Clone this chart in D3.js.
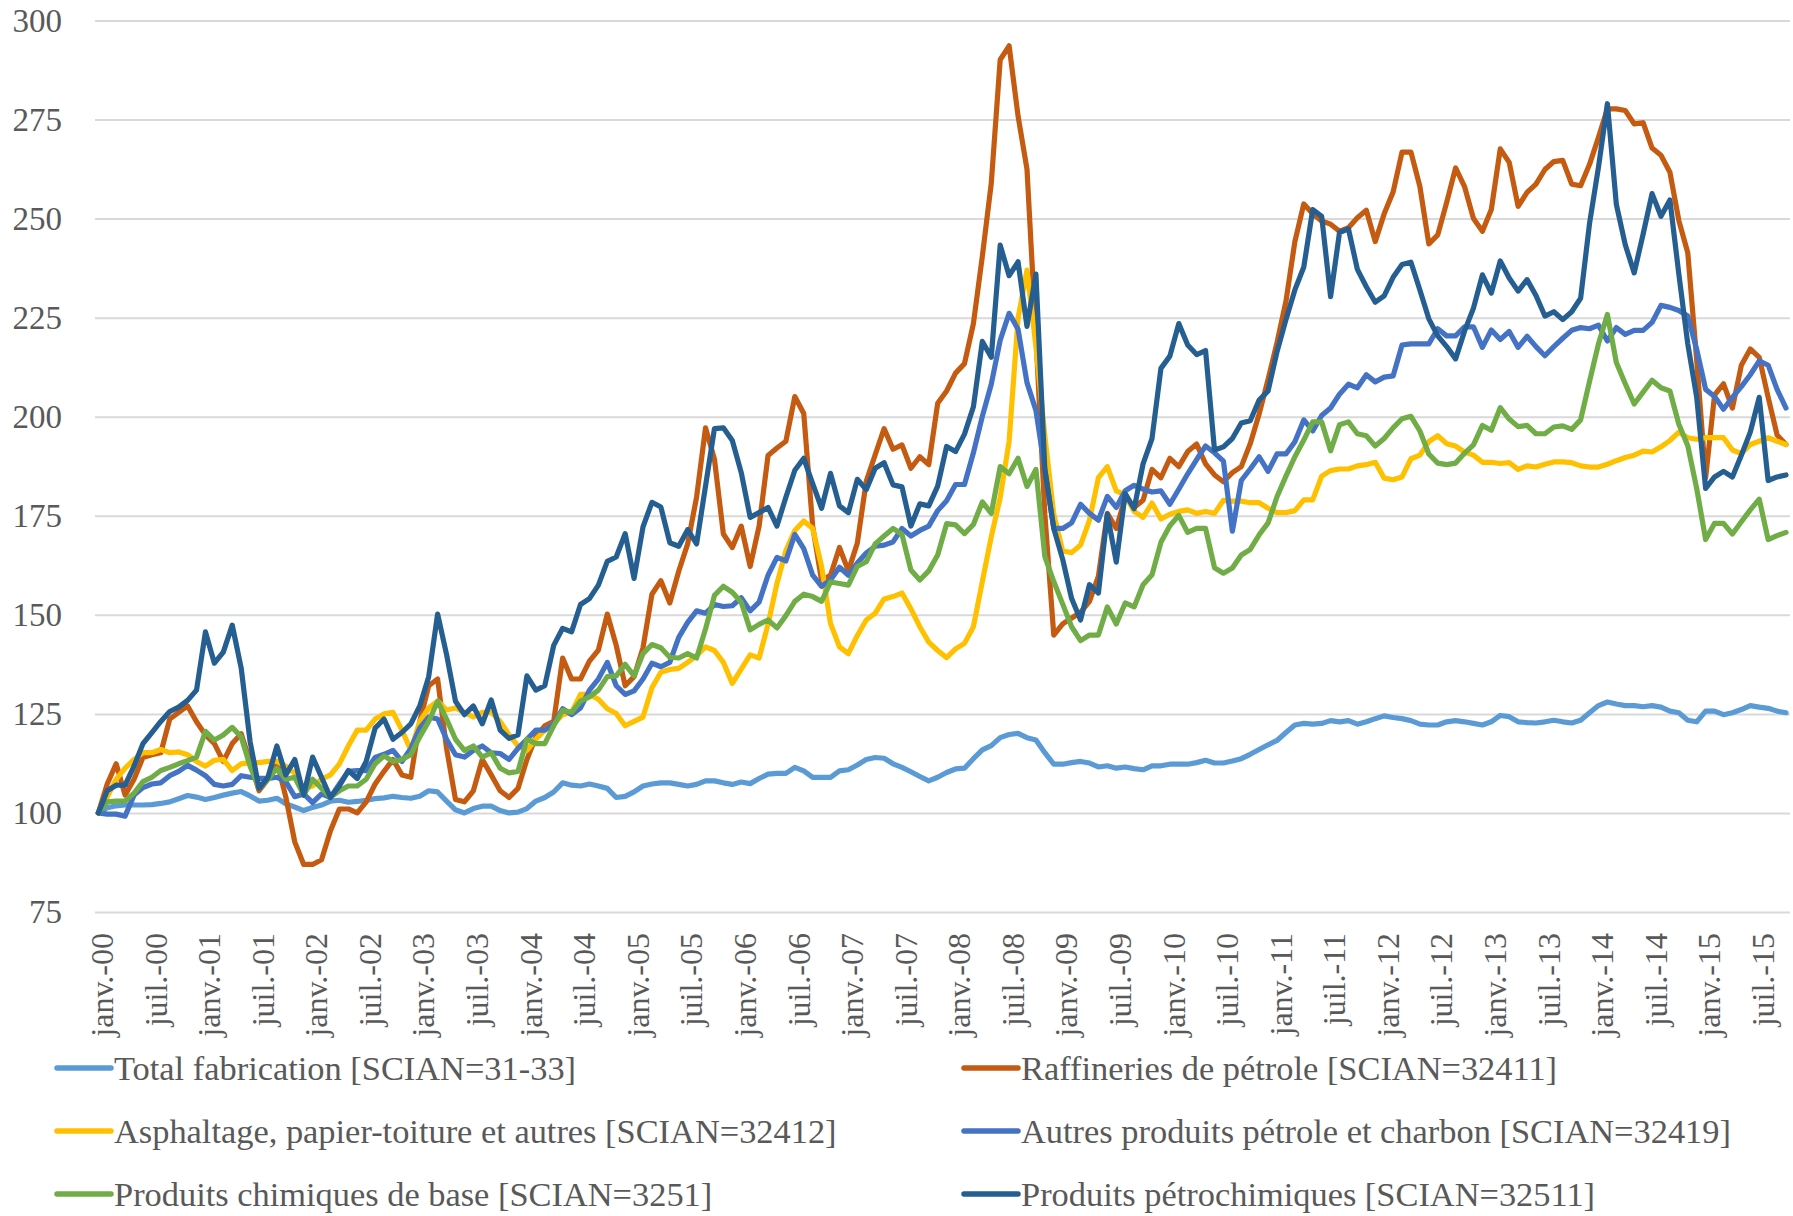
<!DOCTYPE html>
<html>
<head>
<meta charset="utf-8">
<script src="https://cdn.jsdelivr.net/npm/d3@7"></script>
<style>
  body { margin: 0; background: #fff; }
  svg text { font-family: "Palatino Linotype", "Book Antiqua", Palatino, "Liberation Serif", serif; fill: #595959; }
</style>
</head>
<body>
<svg id="chart" width="1793" height="1216"></svg>
<script>
// ------------------------------------------
//  Data (indices, janv. 2000 = 100)
// ------------------------------------------
const moisNoms = ['janv.', 'févr.', 'mars', 'avr.', 'mai', 'juin', 'juil.', 'août', 'sept.', 'oct.', 'nov.', 'déc.']
const annees = ['00', '01', '02', '03', '04', '05', '06', '07', '08', '09', '10', '11', '12', '13', '14', '15']
const yTicks = [75, 100, 125, 150, 175, 200, 225, 250, 275, 300]

const totalFab = [
  100, 101.3, 101.8, 102, 102, 102, 102.1, 102.4, 102.8, 103.6, 104.4, 104,
  103.4, 103.9, 104.5, 105, 105.4, 104.3, 103, 103.2, 103.7, 102.3, 101.5, 100.6,
  101.4, 102, 103, 103.2, 102.7, 102.9, 103.2, 103.6, 103.8, 104.2, 103.9, 103.7,
  104.2, 105.6, 105.3, 103, 100.8, 100, 101.1, 101.7, 101.7, 100.6, 100, 100.2,
  101.1, 103, 103.9, 105.3, 107.6, 107, 106.8, 107.3, 106.8, 106.2, 103.9, 104.2,
  105.3, 106.8, 107.3, 107.6, 107.6, 107.2, 106.8, 107.2, 108.1, 108.1, 107.6, 107.2,
  107.8, 107.4, 108.7, 109.8, 110, 110, 111.5, 110.6, 109, 109, 109, 110.6,
  110.9, 112.1, 113.5, 114, 113.8, 112.4, 111.5, 110.4, 109.2, 108.1, 109, 110.2,
  111.1, 111.3, 113.7, 115.9, 117, 119, 119.8, 120.1, 119, 118.4, 115.2, 112.3,
  112.3, 112.7, 113, 112.6, 111.6, 111.9, 111.3, 111.6, 111.2, 110.9, 111.9, 111.9,
  112.3, 112.3, 112.3, 112.7, 113.3, 112.6, 112.6, 113.1, 113.7, 114.8, 116, 117.2,
  118.3, 120.3, 122.2, 122.6, 122.4, 122.6, 123.3, 123, 123.3, 122.4, 123, 123.8,
  124.5, 124.1, 123.8, 123.3, 122.4, 122.2, 122.2, 123, 123.3, 123, 122.6, 122.2,
  123, 124.6, 124.3, 123, 122.8, 122.7, 123, 123.4, 123, 122.7, 123.4, 125.3,
  127.1, 128, 127.5, 127.1, 127.1, 126.8, 127.1, 126.7, 125.7, 125.3, 123.4, 123,
  125.7, 125.7, 124.8, 125.3, 126.1, 127.1, 126.7, 126.4, 125.7, 125.3
]

const raffineries = [
  100, 107.3, 112.4, 104.5, 108.5, 114, 114.7, 115.2, 123.7, 125.4, 127, 123,
  119.7, 117.5, 113, 117.5, 120, 113, 105.6, 108.5, 113, 104, 92.7, 87,
  87, 88.2, 95.5, 101, 101, 100, 102.8, 107.3, 110.5, 113.5, 109.6, 109,
  123.1, 132.1, 133.8, 116.3, 103.4, 102.8, 105.6, 113.5, 109.6, 105.6, 103.9, 106.2,
  113.5, 119.2, 122, 123.1, 139.1, 133.8, 133.8, 138.3, 141.1, 150.2, 142.3, 132.1,
  134.4, 141.7, 155.2, 158.6, 153, 161, 167.9, 179.7, 197.2, 189.3, 170.4, 167,
  172.4, 162.2, 172.4, 190.2, 192.1, 193.8, 205.1, 200.8, 172.4, 158.6, 160, 167,
  161.1, 168.1, 183.7, 190.4, 197, 191.8, 192.9, 187, 189.9, 187.9, 203.4, 206.5,
  211, 213.4, 223.5, 240.5, 258.9, 290.1, 293.6, 275.9, 262.5, 220.7, 175.4, 144.9,
  147.7, 149.2, 150.6, 153.4, 159.8, 175.6, 171.8, 179.6, 177.1, 178.9, 186.7, 184.6,
  189.5, 187.4, 191.2, 193.1, 188.1, 185.3, 183.6, 185.9, 187.4, 193.2, 200.7, 209.4,
  218.7, 229.1, 244.2, 253.7, 251.2, 249.4, 248.6, 246.8, 247.7, 250.2, 252.1, 244.2,
  251.2, 256.7, 266.8, 266.8, 258.1, 243.6, 245.9, 254.1, 262.8, 258.1, 250, 246.8,
  252.3, 267.6, 264.2, 253.1, 256.6, 258.7, 262.4, 264.4, 264.7, 258.7, 258.3, 263.7,
  270.5, 277.7, 277.7, 277.3, 273.9, 274.2, 267.8, 266, 261.7, 249.5, 241.4, 214.3,
  184.6, 205.5, 208.3, 202.2, 213, 217.1, 215, 204.9, 195.4, 193
]

const asphaltage = [
  100, 104, 108.5, 111.3, 113.5, 115.2, 115.2, 116, 115.2, 115.4, 114.7, 113,
  111.8, 113.3, 113.5, 110.7, 112.4, 112.7, 112.7, 113, 113, 111.8, 110, 106.2,
  106.8, 108.5, 109.6, 112.4, 116.9, 120.9, 120.9, 123.7, 125, 125.4, 120.9, 115.8,
  123.1, 126.5, 128.2, 126, 126.5, 125.4, 124.2, 125.4, 125.4, 123.1, 119.7, 116.9,
  115.8, 118.6, 120.9, 122.5, 124.8, 125.4, 129.9, 129.9, 128.7, 126.3, 125.1, 122,
  123.1, 124.2, 131.6, 135.5, 136.2, 136.5, 138, 139.7, 141.9, 141, 138, 132.7,
  136.3, 139.9, 139.1, 147.6, 157.9, 166.2, 171.3, 173.7, 171.8, 162.2, 147.8, 141.9,
  140.2, 144.8, 148.7, 150.4, 154, 154.6, 155.5, 151.5, 147, 143.1, 141, 139.2,
  141.4, 142.8, 147, 158.4, 169.7, 179.6, 193.8, 224.9, 237, 217.8, 195.2, 175.4,
  166.1, 165.7, 167.6, 173.9, 184.6, 187.4, 181.3, 180.3, 176.1, 174.6, 178.2, 174.2,
  175.4, 176.1, 176.5, 175.6, 176.1, 175.6, 178.9, 178.7, 178.7, 178.3, 178.3, 176.9,
  175.8, 175.8, 176.3, 179, 179, 185, 186.4, 186.8, 186.8, 187.6, 187.9, 188.5,
  184.5, 184.1, 184.8, 189.4, 190.3, 193.7, 195.2, 193.2, 192.6, 191.1, 190.3, 188.5,
  188.5, 188.2, 188.4, 186.7, 187.6, 187.3, 188, 188.6, 188.6, 188.4, 187.6, 187.3,
  187.3, 188, 188.9, 189.7, 190.3, 191.3, 191.1, 192.4, 194, 196.1, 194.7, 194.3,
  194.7, 194.7, 194.7, 191.6, 190.7, 193, 193.8, 194.7, 193.8, 193
]

const autresProduits = [
  100, 99.7, 99.7, 99.2, 104.5, 106.4, 107.3, 107.6, 109.4, 110.5, 112, 110.8,
  109.4, 107.2, 106.8, 107.2, 109.4, 109, 108.7, 108.7, 109, 107.9, 104.1, 104.8,
  102.6, 104.8, 103.9, 107.3, 110.5, 110.7, 110.7, 114, 114.8, 115.8, 113, 116.3,
  121.4, 124.2, 123.7, 118.6, 114.7, 114.1, 115.8, 116.9, 115.2, 115, 113.5, 116.3,
  118.6, 120.9, 120.9, 122.5, 126.3, 124.8, 126.5, 131, 133.8, 138, 132.1, 129.9,
  130.8, 133.8, 137.8, 136.9, 138, 144.3, 148.1, 151, 150.4, 152.6, 152.1, 152.3,
  154.3, 151, 153.2, 160, 164.5, 163.6, 170.3, 166.7, 160, 157.2, 158.8, 162,
  160, 163.1, 165.6, 167.3, 167.6, 168.4, 171.8, 169.9, 171.3, 172.4, 176.3, 178.8,
  182.9, 182.9, 190.9, 200.1, 208.2, 219.3, 226.1, 222.1, 208.6, 201.6, 186.7, 171.8,
  171.8, 173.2, 177.9, 175.6, 173.9, 179.9, 177.1, 181.3, 182.7, 181.7, 181, 181.3,
  177.9, 181.7, 185.6, 189.2, 192.6, 190.9, 188.8, 171.1, 183.9, 186.8, 189.9, 186.2,
  190.6, 190.6, 193.7, 199.2, 196.4, 200.3, 202.2, 205.7, 208.2, 207.3, 210.6, 208.8,
  210, 210.3, 218.1, 218.4, 218.4, 218.4, 222.2, 220.4, 220.4, 222.7, 222.7, 217.5,
  221.9, 219.5, 221.5, 217.5, 220.3, 217.7, 215.4, 217.7, 219.8, 221.8, 222.5, 222.2,
  223.1, 219.1, 222.5, 220.8, 221.8, 221.8, 223.8, 228.1, 227.6, 226.8, 225.4, 217,
  206.9, 205.1, 201.9, 204.9, 207.6, 210.6, 214.1, 213, 206.9, 202.2
]

const chimiquesBase = [
  100, 102.8, 103, 103, 105, 107.9, 109, 110.7, 111.5, 112.4, 113.2, 114.1,
  120.6, 118.4, 119.7, 121.6, 119.2, 111.8, 106.2, 108.5, 111.3, 108.5, 109, 104.5,
  108.5, 106.2, 104, 105.6, 106.8, 106.8, 108.5, 112.4, 114.4, 113, 113.5, 114.7,
  119.2, 123.1, 128.2, 123.7, 118.6, 115.8, 116.9, 114.1, 115.2, 111.3, 110.1, 110.5,
  118.6, 117.5, 117.5, 122, 125.9, 125.4, 128.2, 129.3, 131, 134.4, 134.6, 137.5,
  134.6, 140.2, 142.5, 141.7, 139.3, 139.1, 140.2, 139.1, 146.4, 154.9, 157.2, 155.7,
  153.2, 146.2, 147.6, 148.7, 146.7, 149.8, 153.4, 155.2, 154.6, 153.4, 158.3, 157.9,
  157.5, 162.2, 163.4, 167.9, 169.9, 171.8, 170.3, 161.3, 158.8, 161.1, 165.1, 173,
  172.7, 170.5, 172.8, 178.5, 175.6, 187.4, 185.6, 189.5, 182.4, 186.7, 164.7, 158.4,
  152.7, 147, 143.5, 144.9, 144.9, 152, 147.7, 153, 152, 157.6, 160.1, 168.3,
  172.5, 175.1, 170.8, 171.8, 171.8, 161.9, 160.5, 161.8, 165.1, 166.5, 170.2, 173.2,
  179.8, 185, 189.9, 194.1, 198.7, 198.7, 191.4, 198, 198.7, 195.7, 195.2, 192.6,
  194.5, 197.2, 199.5, 200.1, 196.4, 190.6, 188.3, 187.9, 188.3, 190.8, 192.9, 197.8,
  196.6, 202.3, 199.4, 197.5, 197.8, 195.7, 195.7, 197.4, 197.7, 196.8, 199.2, 208.9,
  218.4, 225.8, 213.7, 208.3, 203.2, 206.2, 209.2, 207.3, 206.5, 198.1, 192.7, 181.9,
  169, 173.1, 173.1, 170.4, 173.5, 176.5, 179.2, 169, 170, 170.8
]

const petrochimiques = [
  100, 105.6, 107, 107, 111.8, 117.5, 120.3, 123.1, 125.6, 126.7, 128.4, 131,
  145.7, 137.8, 140.6, 147.4, 136.6, 118, 106.2, 109, 116.9, 109.6, 113.5, 104.5,
  114.1, 109, 103.9, 106.8, 110.7, 108.7, 113, 121.4, 123.7, 118.6, 120.3, 122.5,
  127, 134.4, 150.2, 140, 128.2, 124.8, 127, 122.5, 128.5, 120.9, 118.8, 119.7,
  134.6, 131, 132.1, 142.3, 146.6, 145.7, 152.6, 154.1, 157.5, 163.5, 164.6, 170.5,
  159.2, 172.2, 178.4, 177.2, 168.2, 167.3, 171.5, 167.9, 182.5, 197, 197.2, 194,
  185.9, 174.6, 175.8, 177.1, 172.4, 179.7, 186.5, 189.5, 183.1, 176.9, 185.7, 177.5,
  175.8, 184.2, 181.6, 187, 188.4, 182.8, 182.3, 172.4, 178, 177.5, 182.5, 192.5,
  191.2, 195.6, 202.5, 219, 215, 243.3, 235.6, 239.1, 222.8, 236, 186.7, 171.8,
  164, 154.1, 148.7, 157.6, 155.5, 175.4, 163.3, 180.6, 176.8, 188.1, 194.5, 212.2,
  215.3, 223.5, 218.1, 215.7, 216.7, 191.6, 192.4, 194.5, 198.4, 199, 204.2, 206.5,
  216.4, 224.5, 232, 237.8, 252.3, 250.6, 230.3, 246.5, 247.4, 237.2, 232.8, 228.9,
  230.5, 235.2, 238.4, 239, 232, 224.7, 220.4, 217.7, 214.6, 221.6, 227.4, 235.8,
  231.2, 239.3, 235, 231.7, 234.6, 230.6, 225.4, 226.5, 224.5, 226.5, 229.9, 248.8,
  263, 279, 253.6, 243.4, 236.3, 246.1, 256.3, 250.6, 254.7, 236, 218.4, 204.9,
  181.9, 184.8, 186.2, 184.8, 190.3, 196.1, 204.9, 183.9, 184.8, 185.3
]

const seriesNames = [
  'Total fabrication [SCIAN=31-33]',
  'Raffineries de pétrole [SCIAN=32411]',
  'Asphaltage, papier-toiture et autres [SCIAN=32412]',
  'Autres produits pétrole et charbon [SCIAN=32419]',
  'Produits chimiques de base [SCIAN=3251]',
  'Produits pétrochimiques [SCIAN=32511]'
]
const seriesValues = [totalFab, raffineries, asphaltage, autresProduits, chimiquesBase, petrochimiques]
const seriesColors = ['#5B9BD5', '#C55A11', '#FFC000', '#4472C4', '#70AD47', '#255E91']

// categories: one per month
const categories = annees.flatMap(a => moisNoms.map(m => `${m}-${a}`)).slice(0, totalFab.length)

// ------------------------------------------
//  Chart
// ------------------------------------------
const svg = d3.select('#chart')
const gridLeft = 95, gridRight = 1790

const x = d3.scalePoint().domain(categories).range([98.3, 1786])
const y = d3.scaleLinear().domain([75, 300]).range([912, 20.5])

// y axis + gridlines
const yAxis = svg.append('g')
  .attr('transform', `translate(${gridLeft},0)`)
  .call(d3.axisLeft(y).tickValues(yTicks).tickSize(-(gridRight - gridLeft)).tickPadding(33))
yAxis.select('.domain').remove()
yAxis.selectAll('.tick line').attr('stroke', '#D9D9D9').attr('stroke-width', 2)
yAxis.selectAll('.tick text')
  .attr('font-size', 33)
  .style('font-family', null)

// x axis, one label every 6 months
const xTicks = categories.filter((d, i) => i % 6 === 0)
const xAxis = svg.append('g')
  .attr('transform', 'translate(0,912)')
  .call(d3.axisBottom(x).tickValues(xTicks).tickSize(0))
xAxis.select('.domain').remove()
xAxis.selectAll('.tick text')
  .attr('font-size', 32)
  .attr('text-anchor', 'end')
  .attr('transform', 'translate(3,21) rotate(-90)')
  .attr('x', 0)
  .attr('y', 0)
  .attr('dy', '0.35em')

// lines
const line = d3.line()
  .x((d, i) => x(categories[i]))
  .y(d => y(d))

svg.append('g').selectAll('path')
  .data(seriesValues)
  .join('path')
  .attr('d', d => line(d))
  .attr('fill', 'none')
  .attr('stroke', (d, i) => seriesColors[i])
  .attr('stroke-width', 5.2)
  .attr('stroke-linejoin', 'round')
  .attr('stroke-linecap', 'round')

// legend
const legendCols = [57, 964]
const legendRows = [1068, 1131, 1194]
const legend = svg.append('g').selectAll('g')
  .data(seriesNames)
  .join('g')
  .attr('transform', (d, i) => `translate(${legendCols[i % 2]},${legendRows[Math.floor(i / 2)]})`)

legend.append('line')
  .attr('x1', 0).attr('x2', 54)
  .attr('stroke', (d, i) => seriesColors[i])
  .attr('stroke-width', 5.5)
  .attr('stroke-linecap', 'round')

legend.append('text')
  .attr('x', 57)
  .attr('dy', '0.35em')
  .attr('font-size', 34.4)
  .text(d => d)
</script>
</body>
</html>
